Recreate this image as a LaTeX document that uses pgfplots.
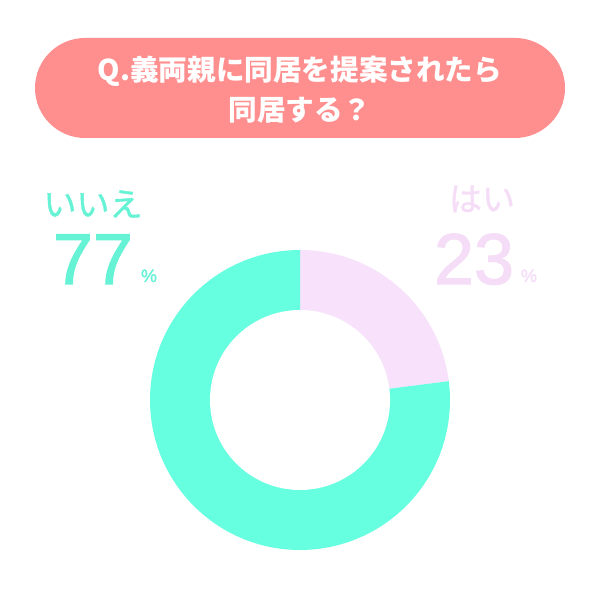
\documentclass[border=0pt]{standalone}
\usepackage{pgfplots}
\pgfplotsset{compat=1.18}
\usepackage{pgfplotstable}
\usepackage{fontspec}
\setmainfont{Liberation Sans}
\newfontfamily\numfont[FakeBold=1.6]{Liberation Sans}
\newfontfamily\cjk{Noto Sans CJK JP}
\newfontfamily\cjkm[FakeBold=1.2]{Noto Sans CJK JP}
\definecolor{teal1}{HTML}{66FFE0}
\definecolor{tealtxt}{HTML}{66F2D4}
\definecolor{pink1}{HTML}{F7E1FB}
\definecolor{pinktxt}{HTML}{F5DDF8}
\definecolor{salmon}{HTML}{FF8F8F}
\pgfplotstableread{
label value
hai 23
iie 77
}\piedata
\pgfplotstablegetelem{0}{value}\of\piedata \let\vhai\pgfplotsretval
\pgfplotstablegetelem{1}{value}\of\piedata \let\viie\pgfplotsretval
\begin{document}
\begin{tikzpicture}
\begin{axis}[
  hide axis, scale only axis,
  width=300bp, height=300bp,
  xmin=0, xmax=600, ymin=0, ymax=600,
  clip=false,
]
% background
\fill[white] (axis cs:0,0) rectangle (axis cs:600,600);
% title box
\fill[salmon, rounded corners=25bp] (axis cs:35,462) rectangle (axis cs:565,562);
\node[text=white, font=\cjk\bfseries\fontsize{14.3bp}{17bp}\selectfont] at (axis cs:300,529) {Q.義両親に同居を提案されたら};
\node[text=white, font=\cjk\bfseries\fontsize{14.3bp}{17bp}\selectfont] at (axis cs:300,490) {同居する？};
% donut slices
\pgfmathsetmacro{\aend}{90-3.6*\vhai}
\fill[pink1] (axis cs:300,200) -- (axis cs:300,350) arc[start angle=90, end angle=\aend, radius=75bp] -- cycle;
\fill[teal1] (axis cs:300,200) -- (axis cs:300,350) arc[start angle=90, end angle=\aend+360, radius=75bp] -- cycle;
\fill[white] (axis cs:300,200) circle[radius=45bp];
% labels
\node[text=tealtxt, font=\cjkm\fontsize{16.5bp}{18bp}\selectfont] at (axis cs:93,396) {いいえ};
\node[text=tealtxt, font=\numfont\fontsize{36bp}{40bp}\selectfont, anchor=base] at (axis cs:93,316) {77};
\node[text=tealtxt, font=\numfont\fontsize{9bp}{10bp}\selectfont, anchor=base] at (axis cs:149,318) {\%};
\node[text=pinktxt, font=\cjkm\fontsize{16.5bp}{18bp}\selectfont] at (axis cs:482,401) {はい};
\node[text=pinktxt, font=\numfont\fontsize{36bp}{40bp}\selectfont, anchor=base] at (axis cs:474,316) {23};
\node[text=pinktxt, font=\numfont\fontsize{9bp}{10bp}\selectfont, anchor=base] at (axis cs:529,318) {\%};
\end{axis}
\end{tikzpicture}
\end{document}
